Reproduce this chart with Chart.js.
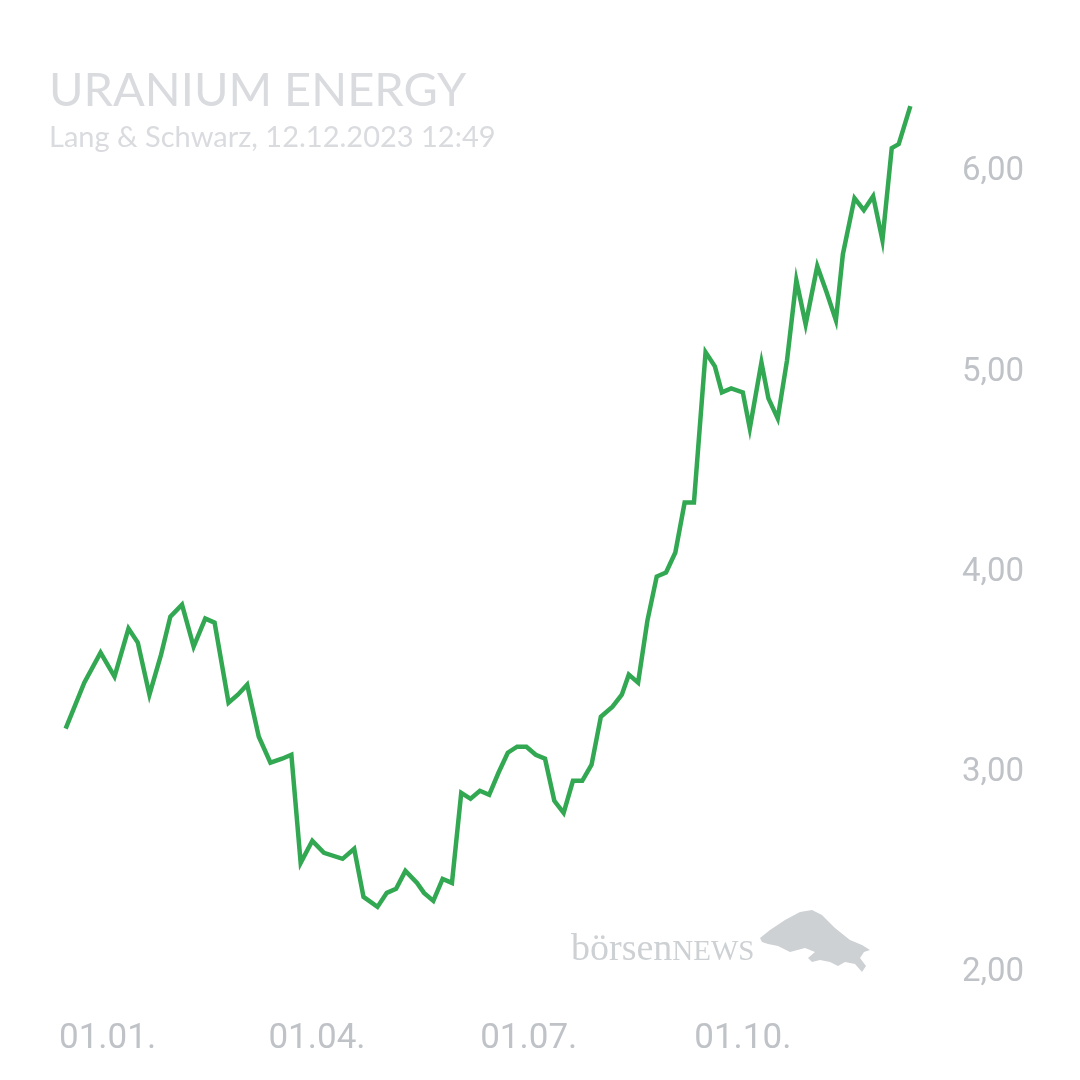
<!DOCTYPE html>
<html>
<head>
<meta charset="utf-8">
<script src="https://cdn.jsdelivr.net/npm/chart.js@4.4.0/dist/chart.umd.min.js"></script>
<style>
  html, body { margin: 0; padding: 0; background: #fff; }
  #wrap { width: 1080px; height: 1080px; }
</style>
</head>
<body>
<div id="wrap"><canvas id="chart" width="1080" height="1080"></canvas></div>
<script>
const title = 'URANIUM ENERGY';
const subtitle = 'Lang & Schwarz, 12.12.2023 12:49';

// closing prices (EUR)
const dates = [
  '2022-12-14', '2022-12-22', '2022-12-29', '2023-01-04', '2023-01-10', '2023-01-14',
  '2023-01-19', '2023-01-24', '2023-01-28', '2023-02-02', '2023-02-07', '2023-02-12',
  '2023-02-16', '2023-02-22', '2023-02-26', '2023-03-02', '2023-03-07', '2023-03-12',
  '2023-03-17', '2023-03-21', '2023-03-25', '2023-03-30', '2023-04-04', '2023-04-12',
  '2023-04-17', '2023-04-21', '2023-04-27', '2023-05-01', '2023-05-05', '2023-05-09',
  '2023-05-14', '2023-05-17', '2023-05-21', '2023-05-25', '2023-05-29', '2023-06-02',
  '2023-06-06', '2023-06-10', '2023-06-14', '2023-06-18', '2023-06-22', '2023-06-26',
  '2023-06-30', '2023-07-04', '2023-07-08', '2023-07-12', '2023-07-16', '2023-07-20',
  '2023-07-24', '2023-07-28', '2023-08-01', '2023-08-06', '2023-08-10', '2023-08-13',
  '2023-08-17', '2023-08-21', '2023-08-25', '2023-08-29', '2023-09-02', '2023-09-06',
  '2023-09-10', '2023-09-15', '2023-09-19', '2023-09-22', '2023-09-26', '2023-10-01',
  '2023-10-04', '2023-10-09', '2023-10-12', '2023-10-16', '2023-10-20', '2023-10-24',
  '2023-10-28', '2023-11-02', '2023-11-06', '2023-11-10', '2023-11-13', '2023-11-18',
  '2023-11-22', '2023-11-26', '2023-11-30', '2023-12-04', '2023-12-07', '2023-12-12'
];
const prices = [
  3.19, 3.42, 3.57, 3.45, 3.69, 3.62,
  3.36, 3.56, 3.75, 3.81, 3.60, 3.74,
  3.72, 3.32, 3.36, 3.41, 3.15, 3.02,
  3.04, 3.06, 2.52, 2.63, 2.57, 2.54,
  2.59, 2.35, 2.30, 2.37, 2.39, 2.48,
  2.42, 2.37, 2.33, 2.44, 2.42, 2.87,
  2.84, 2.88, 2.86, 2.97, 3.07, 3.10,
  3.10, 3.06, 3.04, 2.83, 2.77, 2.93,
  2.93, 3.01, 3.25, 3.30, 3.36, 3.46,
  3.42, 3.73, 3.95, 3.97, 4.07, 4.32,
  4.32, 5.07, 5.00, 4.87, 4.89, 4.87,
  4.69, 5.02, 4.84, 4.74, 5.03, 5.43,
  5.21, 5.50, 5.37, 5.23, 5.56, 5.84,
  5.78, 5.85, 5.63, 6.09, 6.11, 6.30
];

const xTickDates = ['2023-01-01', '2023-04-01', '2023-07-01', '2023-10-01'];
const xTickLabels = ['01.01.', '01.04.', '01.07.', '01.10.'];
const yTicks = [2, 3, 4, 5, 6];

const origin = Date.parse('2023-01-01');
const dayOf = s => Math.round((Date.parse(s) - origin) / 86400000);
const xTickDays = xTickDates.map(dayOf);

const lineColor = '#33a852';
const labelColor = '#bfc2c7';

const overlay = {
  id: 'overlay',
  afterDraw(chart) {
    const ctx = chart.ctx;
    ctx.save();
    ctx.textAlign = 'left';
    ctx.textBaseline = 'alphabetic';
    ctx.fillStyle = '#d9dbdf';
    ctx.font = '47px Lato';
    ctx.fillText(title, 49, 106);
    ctx.font = '29px Lato';
    ctx.fillText(subtitle, 49, 147);

    // watermark
    ctx.fillStyle = '#cdd1d4';
    ctx.font = '38px "Liberation Serif"';
    ctx.fillText('börsen', 571, 960);
    const w = ctx.measureText('börsen').width;
    ctx.font = '29px "Liberation Serif"';
    ctx.fillText('NEWS', 571 + w, 960);

    ctx.beginPath();
    const bull = [
      [760, 938], [770, 930], [785, 920], [800, 912], [812, 910], [822, 915],
      [835, 928], [850, 940], [862, 945], [870, 950], [864, 952], [860, 958],
      [866, 966], [862, 972], [855, 964], [845, 962], [838, 966], [830, 962],
      [820, 960], [812, 962], [808, 958], [815, 952], [805, 948], [790, 952],
      [778, 946], [768, 944], [762, 942]
    ];
    bull.forEach((p, i) => i ? ctx.lineTo(p[0], p[1]) : ctx.moveTo(p[0], p[1]));
    ctx.closePath();
    ctx.fill();
    ctx.restore();
  }
};

const ctx = document.getElementById('chart').getContext('2d');
new Chart(ctx, {
  type: 'line',
  data: {
    datasets: [{
      data: dates.map((d, i) => ({ x: dayOf(d), y: prices[i] })),
      borderColor: lineColor,
      borderWidth: 4.5,
      pointRadius: 0,
      tension: 0,
      fill: false
    }]
  },
  options: {
    responsive: false,
    devicePixelRatio: 1,
    animation: false,
    layout: { padding: { left: 61, top: 66, right: 0, bottom: 0 } },
    scales: {
      x: {
        type: 'linear',
        min: -20,
        max: 350,
        grid: { display: false },
        border: { display: false },
        afterBuildTicks: scale => { scale.ticks = xTickDays.map(v => ({ value: v })); },
        afterFit: scale => { scale.height = 73; },
        ticks: {
          color: labelColor,
          font: { family: 'Roboto', size: 35 },
          padding: 3,
          maxRotation: 0,
          autoSkip: false,
          callback: v => xTickLabels[xTickDays.indexOf(v)]
        }
      },
      y: {
        position: 'right',
        min: 1.8,
        max: 6.5,
        grid: { display: false },
        border: { display: false },
        afterBuildTicks: scale => { scale.ticks = yTicks.map(v => ({ value: v })); },
        afterFit: scale => { scale.width = 158; },
        ticks: {
          color: labelColor,
          font: { family: 'Roboto', size: 33 },
          padding: 32,
          labelOffset: 6,
          callback: v => v.toFixed(2).replace('.', ',')
        }
      }
    },
    plugins: {
      legend: { display: false },
      tooltip: { enabled: false }
    }
  },
  plugins: [overlay]
});
</script>
</body>
</html>
